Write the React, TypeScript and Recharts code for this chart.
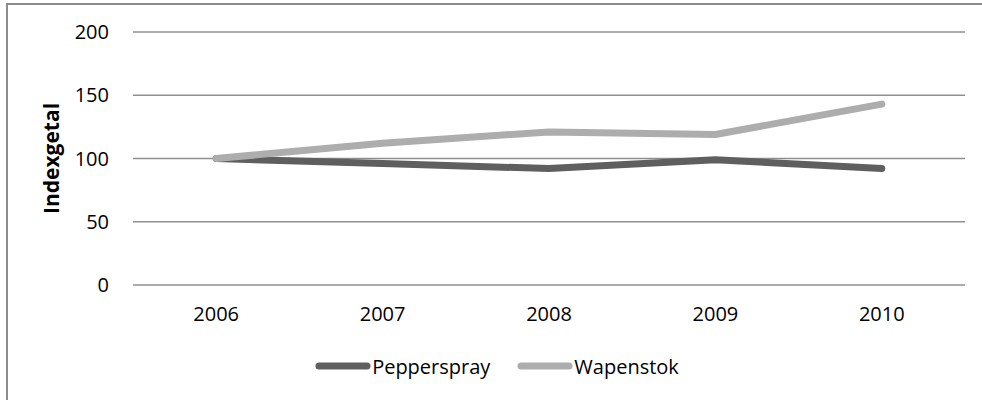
import { CartesianGrid, Legend, Line, LineChart, XAxis, YAxis } from 'recharts'

const years = ['2006', '2007', '2008', '2009', '2010']
const pepperspray = [100, 96, 92, 99, 92]
const wapenstok = [100, 112, 121, 119, 143]
const yTicks = [0, 50, 100, 150, 200]

const COLORS = {
  pepperspray: '#5f5f5f',
  wapenstok: '#adadad',
  grid: '#8f8f8f',
} as const

const FONT = '"Open Sans", "Noto Sans", sans-serif'

const data = years.map((year, i) => ({
  year,
  Pepperspray: pepperspray[i],
  Wapenstok: wapenstok[i],
}))

type LegendItem = { value?: string; color?: string }

function LineLegend({ payload }: { payload?: LegendItem[] }) {
  return (
    <div
      style={{
        height: 30,
        display: 'flex',
        justifyContent: 'center',
        alignItems: 'center',
        paddingLeft: 12,
        gap: 27,
        fontFamily: FONT,
        fontSize: 20,
        color: '#000',
      }}
    >
      {(payload ?? []).map((item) => (
        <div key={item.value} style={{ display: 'flex', alignItems: 'center' }}>
          <svg width={56} height={10} style={{ marginRight: 1 }}>
            <line
              x1={4}
              y1={5}
              x2={52}
              y2={5}
              stroke={item.color}
              strokeWidth={7}
              strokeLinecap="round"
            />
          </svg>
          <span>{item.value}</span>
        </div>
      ))}
    </div>
  )
}

export default function App() {
  return (
    <div
      style={{
        position: 'fixed',
        top: 0,
        left: 0,
        width: 982,
        height: 400,
        overflow: 'hidden',
        background: '#fff',
      }}
    >
      {/* chart frame: only left/top edges fall inside the picture */}
      <div
        style={{
          position: 'absolute',
          left: 6,
          top: 3,
          width: 1000,
          height: 420,
          borderLeft: '2px solid #8c8c8c',
          borderTop: '2px solid #8c8c8c',
        }}
      />
      <div style={{ position: 'absolute', left: 0, top: 0 }}>
        <LineChart
          width={982}
          height={400}
          data={data}
          margin={{ top: 32, right: 17, left: 0, bottom: 45 }}
        >
          <CartesianGrid vertical={false} stroke={COLORS.grid} strokeWidth={1.5} />
          <XAxis
            dataKey="year"
            scale="band"
            axisLine={false}
            tickLine={false}
            tickMargin={16}
            height={40}
            tick={{ fill: '#000', fontSize: 20, fontFamily: FONT }}
          />
          <YAxis
            domain={[0, 200]}
            ticks={yTicks}
            width={133}
            axisLine={false}
            tickLine={false}
            tickMargin={18}
            tick={{ fill: '#000', fontSize: 20, fontFamily: FONT }}
            label={{
              content: (props: any) => {
                const vb = props.viewBox ?? { x: 0, y: 0, height: 0 }
                const cx = vb.x + 51
                const cy = vb.y + vb.height / 2
                return (
                  <text
                    x={cx}
                    y={cy}
                    transform={`rotate(-90 ${cx} ${cy})`}
                    textAnchor="middle"
                    dominantBaseline="central"
                    fontFamily={FONT}
                    fontSize={21}
                    fontWeight="bold"
                    fill="#000"
                  >
                    Indexgetal
                  </text>
                )
              },
            }}
          />
          <Legend
            verticalAlign="bottom"
            content={<LineLegend />}
            wrapperStyle={{ top: 351, bottom: 'auto', left: 0, width: 982 }}
          />
          <Line
            type="linear"
            dataKey="Pepperspray"
            stroke={COLORS.pepperspray}
            strokeWidth={7}
            strokeLinecap="round"
            strokeLinejoin="round"
            dot={false}
            activeDot={false}
            isAnimationActive={false}
          />
          <Line
            type="linear"
            dataKey="Wapenstok"
            stroke={COLORS.wapenstok}
            strokeWidth={7}
            strokeLinecap="round"
            strokeLinejoin="round"
            dot={false}
            activeDot={false}
            isAnimationActive={false}
          />
        </LineChart>
      </div>
    </div>
  )
}
